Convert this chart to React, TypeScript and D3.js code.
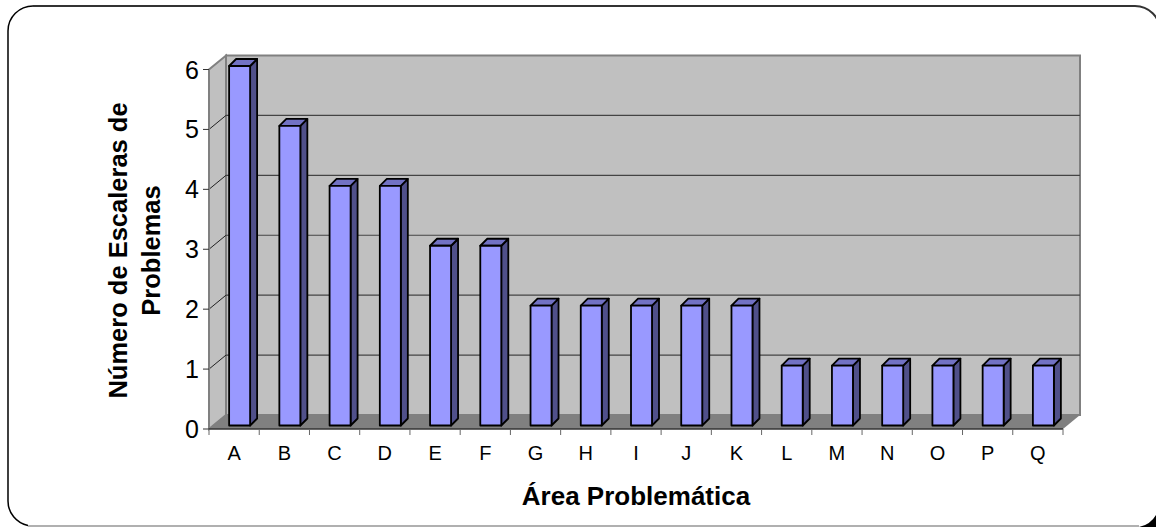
import * as d3 from 'd3';

const categories = ['A', 'B', 'C', 'D', 'E', 'F', 'G', 'H', 'I', 'J', 'K', 'L', 'M', 'N', 'O', 'P', 'Q'];
const values = [6, 5, 4, 4, 3, 3, 2, 2, 2, 2, 2, 1, 1, 1, 1, 1, 1];
const yTicks = [0, 1, 2, 3, 4, 5, 6];

const width = 1156;
const height = 527;

// front plane of the 3d box
const x = d3.scaleBand<string>().domain(categories).range([209, 1063]);
const y = d3.scaleLinear().domain([0, 6]).range([429, 69.5]);

// how far the back wall sits from the front plane
const depthX = 17;
const depthY = -14;

const barWidth = 21;
const barOffsetX = 5.5;
const barOffsetY = -3.5;
const barDepthX = 7;
const barDepthY = -7;

const poly = (pts: [number, number][]) => d3.line()(pts) + 'Z';

export default function App() {
  const [x0, x1] = x.range();
  const y0 = y(0);
  const y6 = y(6);

  return (
    <svg
      width={width}
      height={height}
      style={{ position: 'absolute', left: 0, top: 0, fontFamily: '"Liberation Sans", Arial, sans-serif' }}
    >
      {/* frame */}
      <path d="M1139,527 A25,25 0 0 0 1156,515 L1156,527 Z" fill="#000" />
      <path d="M1160,31 A25,25 0 0 0 1135,6 L33,6" fill="none" stroke="#333" strokeWidth={2} />
      <path d="M33,6 A25,25 0 0 0 8,31 L8,501 A25,25 0 0 0 28,525.5" fill="none" stroke="#000" strokeWidth={1.5} />
      <line x1={28} x2={1139} y1={526} y2={526} stroke="#b0b0b0" strokeWidth={2} />

      {/* walls and floor */}
      <path
        d={poly([[x0, y0], [x0 + depthX, y0 + depthY], [x0 + depthX, y6 + depthY], [x0, y6]])}
        fill="#c0c0c0"
        stroke="#808080"
        strokeWidth={2}
      />
      <path
        d={poly([[x0 + depthX, y6 + depthY], [x1 + depthX, y6 + depthY], [x1 + depthX, y0 + depthY], [x0 + depthX, y0 + depthY]])}
        fill="#c0c0c0"
        stroke="#808080"
        strokeWidth={2}
      />
      <path
        d={poly([[x0, y0], [x0 + depthX, y0 + depthY], [x1 + depthX, y0 + depthY], [x1, y0]])}
        fill="#808080"
      />

      {/* gridlines */}
      {yTicks.slice(1, -1).map((t) => (
        <g key={t}>
          <line x1={x0} x2={x0 + depthX} y1={y(t)} y2={y(t) + depthY} stroke="#222" strokeWidth={1} />
          <line x1={x0 + depthX} x2={x1 + depthX} y1={y(t) + depthY} y2={y(t) + depthY} stroke="#444" strokeWidth={1.2} />
        </g>
      ))}

      {/* bars */}
      {categories.map((c, i) => {
        const left = x(c)! + x.bandwidth() / 2 + barOffsetX - barWidth / 2;
        const right = left + barWidth;
        const top = y(values[i]) + barOffsetY;
        const bottom = y0 + barOffsetY;
        return (
          <g key={c} stroke="#000" strokeWidth={1.8} strokeLinejoin="round">
            <path
              d={poly([[right, top], [right + barDepthX, top + barDepthY], [right + barDepthX, bottom + barDepthY], [right, bottom]])}
              fill="#50508a"
            />
            <path
              d={poly([[left, top], [left + barDepthX, top + barDepthY], [right + barDepthX, top + barDepthY], [right, top]])}
              fill="#7272c4"
            />
            <rect x={left} y={top} width={barWidth} height={bottom - top} fill="#9999ff" />
          </g>
        );
      })}

      {/* axes */}
      <line x1={x0} x2={x0} y1={y6} y2={y0} stroke="#808080" strokeWidth={2} />
      <line x1={x0} x2={x1} y1={y0} y2={y0} stroke="#333" strokeWidth={1.5} />
      {yTicks.map((t) => (
        <g key={t}>
          <line x1={x0 - 6} x2={x0} y1={y(t)} y2={y(t)} stroke="#333" strokeWidth={1} />
          <text x={199} y={y(t) + 9} textAnchor="end" fontSize={25} fill="#000">
            {t}
          </text>
        </g>
      ))}
      {categories.map((c) => (
        <g key={c}>
          <line x1={x(c)!} x2={x(c)!} y1={y0} y2={y0 + 6} stroke="#666" strokeWidth={1} />
          <text x={x(c)! + x.bandwidth() / 2} y={460} textAnchor="middle" fontSize={20} fill="#000">
            {c}
          </text>
        </g>
      ))}
      <line x1={x1} x2={x1} y1={y0} y2={y0 + 6} stroke="#666" strokeWidth={1} />

      {/* axis titles */}
      <text x={636} y={505} textAnchor="middle" fontSize={26} fontWeight="bold" fill="#000">
        Área Problemática
      </text>
      <text transform="translate(127,250.5) rotate(-90)" textAnchor="middle" fontSize={25.5} fontWeight="bold" fill="#000">
        Número de Escaleras de
      </text>
      <text transform="translate(160,250.5) rotate(-90)" textAnchor="middle" fontSize={25.5} fontWeight="bold" fill="#000">
        Problemas
      </text>
    </svg>
  );
}
